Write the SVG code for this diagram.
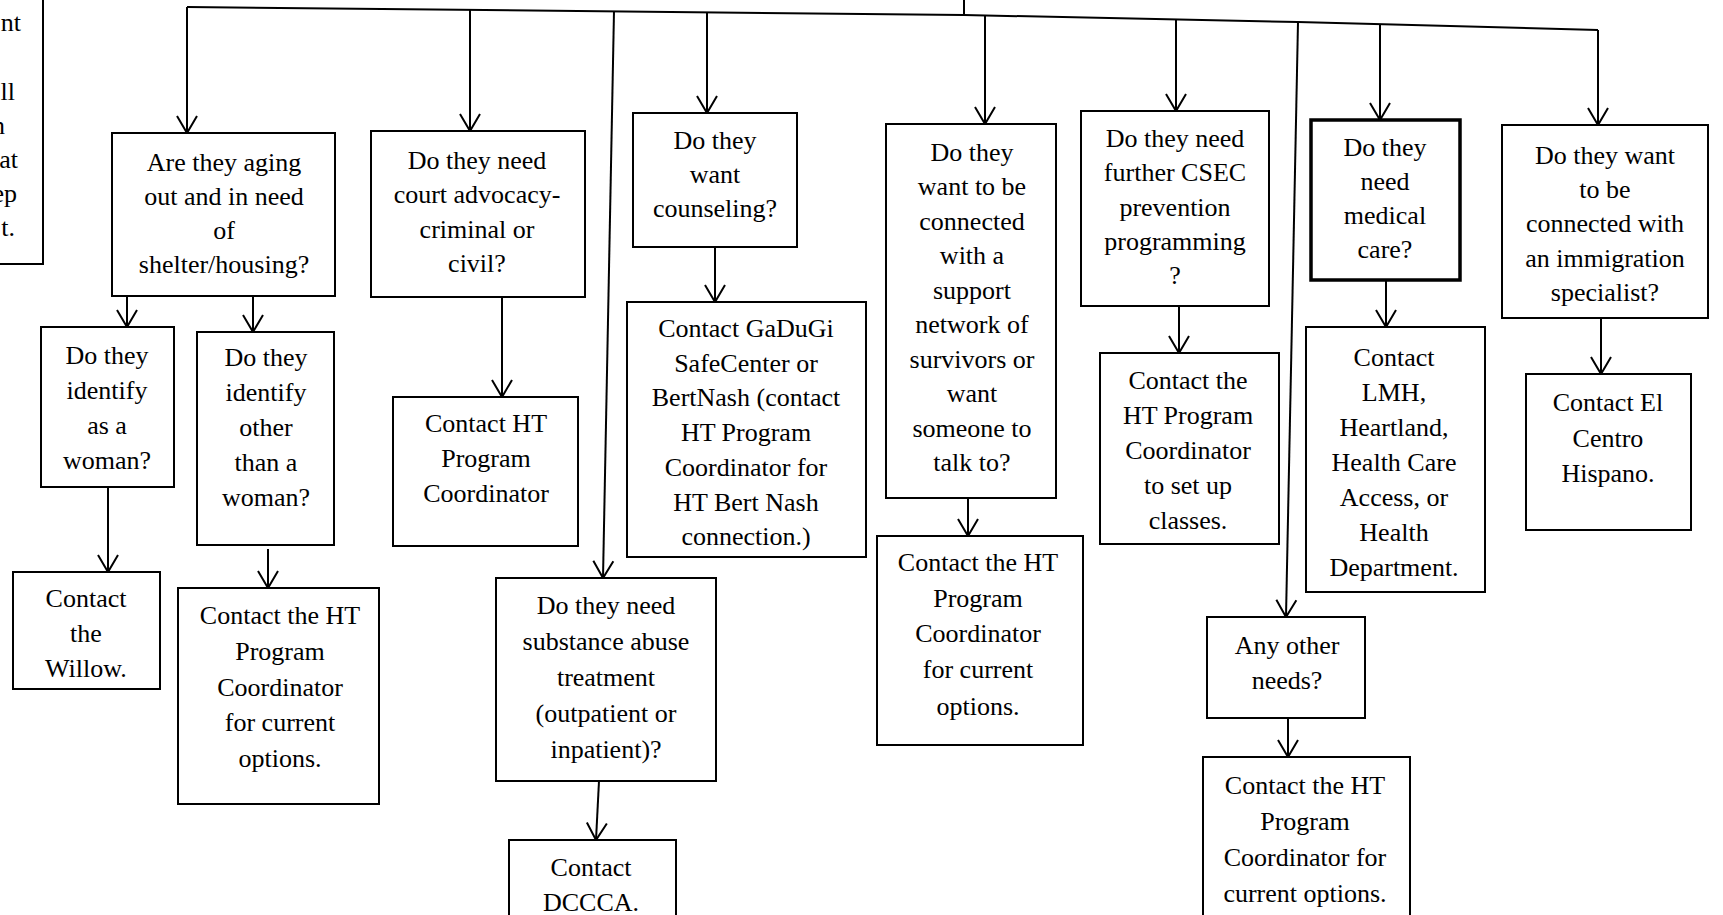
<svg xmlns="http://www.w3.org/2000/svg" width="1723" height="915" viewBox="0 0 1723 915">
<defs>
<style>
.box{fill:#fff;stroke:#000;stroke-width:2}
.bold{stroke-width:3.5}
.t{font-family:"Liberation Serif","Times New Roman",serif;font-size:26px;text-anchor:middle;fill:#000}
.te{text-anchor:end}
.c{fill:none;stroke:#000;stroke-width:2}
.a{marker-end:url(#ah)}
</style>
<marker id="ah" markerUnits="userSpaceOnUse" viewBox="-20 -12 22 24" refX="0" refY="0" markerWidth="22" markerHeight="24" orient="auto">
<path d="M-17,-10 L0,0 L-17,10" fill="none" stroke="#000" stroke-width="2"/>
</marker>
</defs>
<rect x="0" y="0" width="1723" height="915" fill="#fff"/>

<g id="connectors">
<path class="c" d="M964,0 L964,15"/>
<polyline class="c" points="187,7 964,15 1298,22 1598,30"/>
<path class="c a" d="M187,7 L187,133"/>
<path class="c a" d="M470,10 L470,131"/>
<path class="c a" d="M614,11 L603,578"/>
<path class="c a" d="M707,12 L707,113"/>
<path class="c a" d="M985,15 L985,124"/>
<path class="c a" d="M1176,19 L1176,111"/>
<path class="c a" d="M1298,22 L1286,617"/>
<path class="c a" d="M1380,24 L1380,120"/>
<path class="c a" d="M1598,30 L1598,125"/>
<path class="c a" d="M127,296 L127,327"/>
<path class="c a" d="M253,296 L253,332"/>
<path class="c a" d="M502,297 L502,397"/>
<path class="c a" d="M715,247 L715,302"/>
<path class="c a" d="M108,487 L108,572"/>
<path class="c a" d="M268,549 L268,588"/>
<path class="c a" d="M968,498 L968,536"/>
<path class="c a" d="M599,781 L596,840"/>
<path class="c a" d="M1179,306 L1179,353"/>
<path class="c a" d="M1386,280 L1386,327"/>
<path class="c a" d="M1601,318 L1601,374"/>
<path class="c a" d="M1288,718 L1288,757"/>
</g>

<g id="partial">
<rect class="box" x="-20" y="-20" width="63" height="284"/>
<text class="t te" x="21" y="31">nt</text>
<text class="t te" x="15" y="100">ll</text>
<text class="t te" x="5" y="134">n</text>
<text class="t te" x="18" y="168">at</text>
<text class="t te" x="17" y="202">ep</text>
<text class="t te" x="15" y="236">t.</text>
</g>

<g id="nodeA">
<rect class="box" x="112" y="133" width="223" height="163"/>
<text class="t" x="224" y="171">Are they aging</text>
<text class="t" x="224" y="205">out and in need</text>
<text class="t" x="224" y="239">of</text>
<text class="t" x="224" y="273">shelter/housing?</text>
</g>

<g id="nodeB">
<rect class="box" x="371" y="131" width="214" height="166"/>
<text class="t" x="477" y="169">Do they need</text>
<text class="t" x="477" y="203">court advocacy-</text>
<text class="t" x="477" y="238">criminal or</text>
<text class="t" x="477" y="272">civil?</text>
</g>

<g id="nodeC">
<rect class="box" x="633" y="113" width="164" height="134"/>
<text class="t" x="715" y="149">Do they</text>
<text class="t" x="715" y="183">want</text>
<text class="t" x="715" y="217">counseling?</text>
</g>

<g id="nodeD">
<rect class="box" x="886" y="124" width="170" height="374"/>
<text class="t" x="972" y="161">Do they</text>
<text class="t" x="972" y="195">want to be</text>
<text class="t" x="972" y="230">connected</text>
<text class="t" x="972" y="264">with a</text>
<text class="t" x="972" y="299">support</text>
<text class="t" x="972" y="333">network of</text>
<text class="t" x="972" y="368">survivors or</text>
<text class="t" x="972" y="402">want</text>
<text class="t" x="972" y="437">someone to</text>
<text class="t" x="972" y="471">talk to?</text>
</g>

<g id="nodeE">
<rect class="box" x="1081" y="111" width="188" height="195"/>
<text class="t" x="1175" y="147">Do they need</text>
<text class="t" x="1175" y="181">further CSEC</text>
<text class="t" x="1175" y="216">prevention</text>
<text class="t" x="1175" y="250">programming</text>
<text class="t" x="1175" y="284">?</text>
</g>

<g id="nodeF">
<rect class="box bold" x="1311" y="120" width="149" height="160"/>
<text class="t" x="1385" y="156">Do they</text>
<text class="t" x="1385" y="190">need</text>
<text class="t" x="1385" y="224">medical</text>
<text class="t" x="1385" y="258">care?</text>
</g>

<g id="nodeG">
<rect class="box" x="1502" y="125" width="206" height="193"/>
<text class="t" x="1605" y="164">Do they want</text>
<text class="t" x="1605" y="198">to be</text>
<text class="t" x="1605" y="232">connected with</text>
<text class="t" x="1605" y="267">an immigration</text>
<text class="t" x="1605" y="301">specialist?</text>
</g>

<g id="nodeH">
<rect class="box" x="41" y="327" width="133" height="160"/>
<text class="t" x="107" y="364">Do they</text>
<text class="t" x="107" y="399">identify</text>
<text class="t" x="107" y="434">as a</text>
<text class="t" x="107" y="469">woman?</text>
</g>

<g id="nodeI">
<rect class="box" x="197" y="332" width="137" height="213"/>
<text class="t" x="266" y="366">Do they</text>
<text class="t" x="266" y="401">identify</text>
<text class="t" x="266" y="436">other</text>
<text class="t" x="266" y="471">than a</text>
<text class="t" x="266" y="506">woman?</text>
</g>

<g id="nodeJ">
<rect class="box" x="13" y="572" width="147" height="117"/>
<text class="t" x="86" y="607">Contact</text>
<text class="t" x="86" y="642">the</text>
<text class="t" x="86" y="677">Willow.</text>
</g>

<g id="nodeK">
<rect class="box" x="178" y="588" width="201" height="216"/>
<text class="t" x="280" y="624">Contact the HT</text>
<text class="t" x="280" y="660">Program</text>
<text class="t" x="280" y="696">Coordinator</text>
<text class="t" x="280" y="731">for current</text>
<text class="t" x="280" y="767">options.</text>
</g>

<g id="nodeL">
<rect class="box" x="393" y="397" width="185" height="149"/>
<text class="t" x="486" y="432">Contact HT</text>
<text class="t" x="486" y="467">Program</text>
<text class="t" x="486" y="502">Coordinator</text>
</g>

<g id="nodeM">
<rect class="box" x="627" y="302" width="239" height="255"/>
<text class="t" x="746" y="337">Contact GaDuGi</text>
<text class="t" x="746" y="372">SafeCenter or</text>
<text class="t" x="746" y="406">BertNash (contact</text>
<text class="t" x="746" y="441">HT Program</text>
<text class="t" x="746" y="476">Coordinator for</text>
<text class="t" x="746" y="511">HT Bert Nash</text>
<text class="t" x="746" y="545">connection.)</text>
</g>

<g id="nodeN">
<rect class="box" x="877" y="536" width="206" height="209"/>
<text class="t" x="978" y="571">Contact the HT</text>
<text class="t" x="978" y="607">Program</text>
<text class="t" x="978" y="642">Coordinator</text>
<text class="t" x="978" y="678">for current</text>
<text class="t" x="978" y="715">options.</text>
</g>

<g id="nodeO">
<rect class="box" x="496" y="578" width="220" height="203"/>
<text class="t" x="606" y="614">Do they need</text>
<text class="t" x="606" y="650">substance abuse</text>
<text class="t" x="606" y="686">treatment</text>
<text class="t" x="606" y="722">(outpatient or</text>
<text class="t" x="606" y="758">inpatient)?</text>
</g>

<g id="nodeP">
<rect class="box" x="509" y="840" width="167" height="100"/>
<text class="t" x="591" y="876">Contact</text>
<text class="t" x="591" y="911">DCCCA.</text>
</g>

<g id="nodeQ">
<rect class="box" x="1100" y="353" width="179" height="191"/>
<text class="t" x="1188" y="389">Contact the</text>
<text class="t" x="1188" y="424">HT Program</text>
<text class="t" x="1188" y="459">Coordinator</text>
<text class="t" x="1188" y="494">to set up</text>
<text class="t" x="1188" y="529">classes.</text>
</g>

<g id="nodeR">
<rect class="box" x="1306" y="327" width="179" height="265"/>
<text class="t" x="1394" y="366">Contact</text>
<text class="t" x="1394" y="401">LMH,</text>
<text class="t" x="1394" y="436">Heartland,</text>
<text class="t" x="1394" y="471">Health Care</text>
<text class="t" x="1394" y="506">Access, or</text>
<text class="t" x="1394" y="541">Health</text>
<text class="t" x="1394" y="576">Department.</text>
</g>

<g id="nodeS">
<rect class="box" x="1526" y="374" width="165" height="156"/>
<text class="t" x="1608" y="411">Contact El</text>
<text class="t" x="1608" y="447">Centro</text>
<text class="t" x="1608" y="482">Hispano.</text>
</g>

<g id="nodeT">
<rect class="box" x="1207" y="617" width="158" height="101"/>
<text class="t" x="1287" y="654">Any other</text>
<text class="t" x="1287" y="689">needs?</text>
</g>

<g id="nodeU">
<rect class="box" x="1203" y="757" width="207" height="180"/>
<text class="t" x="1305" y="794">Contact the HT</text>
<text class="t" x="1305" y="830">Program</text>
<text class="t" x="1305" y="866">Coordinator for</text>
<text class="t" x="1305" y="902">current options.</text>
</g>
</svg>
